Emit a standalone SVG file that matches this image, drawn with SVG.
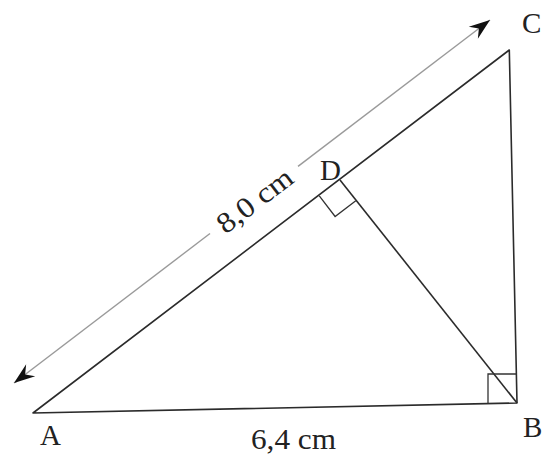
<svg xmlns="http://www.w3.org/2000/svg" width="544" height="457" viewBox="0 0 544 457">
  <defs>
    <style>
      .edge { fill: none; stroke: #2b2b2b; stroke-width: 1.6; stroke-linejoin: round; }
      .mark { fill: none; stroke: #333; stroke-width: 1.3; }
      .dim { fill: none; stroke: #9a9a9a; stroke-width: 1.4; }
      .lbl { font-family: "Liberation Serif", "Times New Roman", serif; font-size: 29px; fill: #222; }
      .meas { font-family: "Liberation Serif", "Times New Roman", serif; font-size: 29px; fill: #222; }
    </style>
    <marker id="arr" viewBox="-22 -8 24 16" markerWidth="24" markerHeight="16" refX="0" refY="0" orient="auto" markerUnits="userSpaceOnUse">
      <path d="M0,0 L-21,-7.5 L-14,0 L-21,7.5 Z" fill="#111"/>
    </marker>
  </defs>
  <rect width="544" height="457" fill="#ffffff"/>

  <g id="connectors">
    <g id="triangle">
      <path class="edge" d="M33,413 L509.3,50 L517,403 Z"/>
    </g>
    <g id="altitude-BD">
      <path class="edge" d="M340,180 L517,403" stroke-width="1.4"/>
    </g>
    <g id="dimension-AC">
      <path class="dim" d="M210,233.5 L14,383" marker-end="url(#arr)"/>
      <path class="dim" d="M298,166.4 L490,20" marker-end="url(#arr)"/>
    </g>
  </g>

  <g id="right-angle-D">
    <path class="mark" d="M319.3,195.8 L335.1,216.5 L355.8,200.7"/>
  </g>
  <g id="right-angle-B">
    <path class="mark" d="M488,403.6 L488,374 L516.4,374"/>
  </g>

  <g id="node-A"><text class="lbl" x="40" y="445">A</text></g>
  <g id="node-B"><text class="lbl" x="523" y="437">B</text></g>
  <g id="node-C"><text class="lbl" x="522" y="33">C</text></g>
  <g id="node-D"><text class="lbl" x="320" y="180">D</text></g>

  <g id="label-AB"><text class="meas" x="251" y="449" textLength="85" lengthAdjust="spacingAndGlyphs">6,4 cm</text></g>
  <g id="label-AC">
    <text class="meas" transform="translate(255,201) rotate(-37.3)" x="0" y="9" text-anchor="middle" textLength="88" lengthAdjust="spacingAndGlyphs">8,0 cm</text>
  </g>
</svg>
